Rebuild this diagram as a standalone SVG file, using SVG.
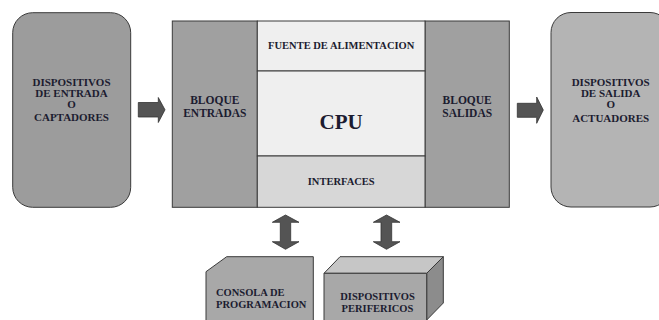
<svg xmlns="http://www.w3.org/2000/svg" width="659" height="320" viewBox="0 0 659 320">
<style>
text{font-family:"Liberation Serif","Times New Roman",serif;font-weight:bold;fill:#1c1c30;text-anchor:middle}
.big{font-size:11.5px}
.lb{font-size:11px}
.sm{font-size:10.5px}
.box{stroke:#3a3a3a;stroke-width:1}
.arr{fill:#545454;stroke:#333;stroke-width:0.8}
</style>
<rect width="659" height="320" fill="#fff"/>
<g id="entrada">
<rect class="box" x="12.7" y="12.7" width="118" height="194.6" rx="20" fill="#9c9c9c"/>
<text class="lb" x="71.5" y="86">DISPOSITIVOS</text>
<text class="lb" x="71.5" y="96.8">DE ENTRADA</text>
<text class="lb" x="71.5" y="107.6">O</text>
<text class="lb" x="71.5" y="120.7">CAPTADORES</text>
</g>
<g id="salida">
<rect class="box" x="551" y="12.5" width="119" height="194.5" rx="20" fill="#b4b4b4"/>
<text class="lb" x="610.7" y="86">DISPOSITIVOS</text>
<text class="lb" x="610.7" y="96.8">DE SALIDA</text>
<text class="lb" x="610.7" y="107.6">O</text>
<text class="lb" x="610.7" y="121.5">ACTUADORES</text>
</g>
<g id="plc">
<rect class="box" x="172.3" y="21" width="85" height="186.3" fill="#a0a0a0"/>
<rect class="box" x="425" y="21" width="84.3" height="186.3" fill="#a0a0a0"/>
<rect class="box" x="257.3" y="21" width="167.7" height="50" fill="#efefef"/>
<rect class="box" x="257.3" y="71" width="167.7" height="85" fill="#efefef"/>
<rect class="box" x="257.3" y="156" width="167.7" height="51.3" fill="#d7d7d7"/>
<text class="big" x="214.8" y="104.3">BLOQUE</text>
<text class="big" x="214.8" y="117.3">ENTRADAS</text>
<text class="big" x="467.2" y="104.3">BLOQUE</text>
<text class="big" x="467.2" y="117.3">SALIDAS</text>
<text class="sm" x="341.2" y="49.3">FUENTE DE ALIMENTACION</text>
<text x="341.2" y="129.3" style="font-size:21px">CPU</text>
<text class="sm" x="341.2" y="185">INTERFACES</text>
</g>
<g id="consola">
<path class="box" d="M206 320 V271.7 L226.7 256.7 H313.3 V320" fill="#a8a8a8"/>
<text class="sm" x="216" y="296" style="text-anchor:start">CONSOLA DE</text>
<text class="sm" x="216" y="308.3" style="text-anchor:start">PROGRAMACION</text>
</g>
<g id="perifericos">
<path class="box" d="M324 273.3 L340 256.7 H443.3 L426.7 273.3 Z" fill="#c6c6c6"/>
<path class="box" d="M426.7 273.3 L443.3 256.7 V303 L426.7 320 Z" fill="#8c8c8c"/>
<path class="box" d="M324 320 V273.3 H426.7 V320" fill="#a8a8a8"/>
<text class="sm" x="377.5" y="300">DISPOSITIVOS</text>
<text class="sm" x="377.5" y="311.7">PERIFERICOS</text>
</g>
<g id="connectors">
<path class="arr" d="M138.3 102.5 H158.3 V97.5 L165 109.8 L158.3 122.5 V117 H138.3 Z"/>
<path class="arr" d="M517.3 103.3 H536.7 V97 L543.3 110 L536.7 123.3 V117.3 H517.3 Z"/>
<path class="arr" d="M285.5 215 L299 222.3 H290.7 V241.7 H299 L285.5 249.3 L272.3 241.7 H280.3 V222.3 H272.3 Z"/>
<path class="arr" d="M386.5 215 L400 222.3 H391.7 V241.7 H400 L386.5 249.3 L373.3 241.7 H381 V222.3 H373.3 Z"/>
</g>
</svg>
